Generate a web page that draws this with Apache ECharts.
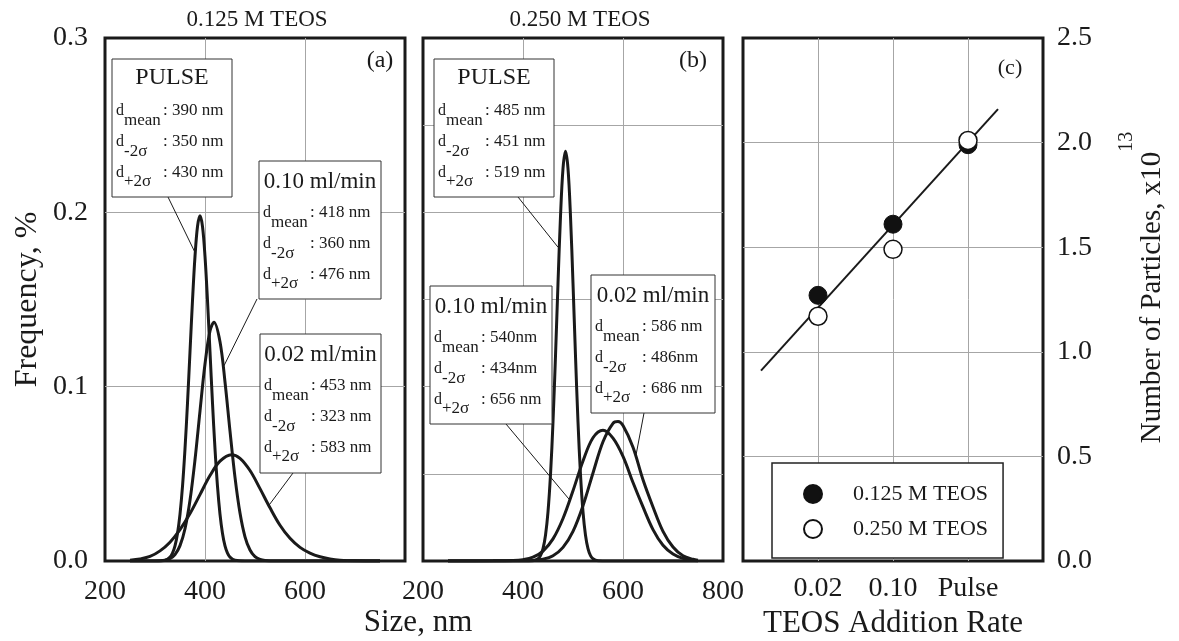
<!DOCTYPE html>
<html><head><meta charset="utf-8">
<script src="https://cdn.jsdelivr.net/npm/echarts@6/dist/echarts.min.js"></script>
<style>html,body{margin:0;padding:0;background:#fff}#c{width:1179px;height:641px}</style>
</head><body><div id="c"></div>
<script>
// ---------------- DATA ----------------
const sizeTickLabelsA = ['200', '400', '600'];
const sizeTickLabelsB = ['200', '400', '600', '800'];
const freqTickLabels = ['0.0', '0.1', '0.2', '0.3'];
const countTickLabels = ['0.0', '0.5', '1.0', '1.5', '2.0', '2.5'];
const rates = ['0.02', '0.10', 'Pulse'];

// panel (a) 0.125 M TEOS : [size nm, frequency %]
const pulseA = [[250,0],[300,0],[320,0.0004],[330,0.0022],[335,0.0045],[340,0.0087],[345,0.0158],[350,0.0268],[355,0.0428],[360,0.0643],[365,0.0906],[370,0.120],[375,0.1494],[380,0.1747],[385,0.1919],[390,0.198],[395,0.1919],[400,0.1747],[405,0.1494],[410,0.120],[415,0.0906],[420,0.0643],[425,0.0428],[430,0.0268],[435,0.0158],[440,0.0087],[445,0.0045],[450,0.0022],[460,0.0004],[480,0],[750,0]];
const rate010A = [[250,0],[310,0],[330,0.0014],[340,0.0037],[350,0.0088],[360,0.0185],[370,0.0348],[380,0.0581],[390,0.086],[400,0.113],[410,0.132],[418,0.137],[430,0.1258],[440,0.1027],[450,0.0745],[460,0.048],[470,0.0275],[480,0.0139],[490,0.0063],[500,0.0025],[510,0.0009],[520,0.0003],[540,0],[750,0]];
const rate002A = [[250,0.0005],[270,0.0012],[290,0.0026],[310,0.0058],[330,0.0108],[350,0.018],[370,0.0272],[390,0.0381],[410,0.049],[430,0.0573],[453,0.061],[470,0.0589],[490,0.0519],[510,0.0415],[530,0.0305],[550,0.0205],[570,0.013],[590,0.0078],[610,0.0045],[630,0.0024],[650,0.0012],[670,0.0005],[700,0.0001],[750,0]];

// panel (b) 0.250 M TEOS
const pulseB = [[250,0],[400,0],[420,0.0002],[430,0.0013],[435,0.0031],[440,0.0071],[445,0.0148],[450,0.0282],[455,0.0495],[460,0.0797],[465,0.1176],[470,0.1593],[475,0.1977],[480,0.2251],[485,0.235],[490,0.2251],[495,0.1977],[500,0.1593],[505,0.1176],[510,0.0797],[515,0.0495],[520,0.0282],[525,0.0148],[530,0.0071],[535,0.0031],[540,0.0013],[550,0.0002],[570,0],[750,0]];
const rate010B = [[250,0],[340,0.0001],[380,0.0003],[400,0.0008],[420,0.0022],[440,0.0057],[460,0.0127],[480,0.0244],[500,0.0403],[520,0.0574],[540,0.0707],[560,0.075],[580,0.0705],[600,0.060],[620,0.045],[640,0.031],[660,0.018],[680,0.009],[700,0.004],[720,0.0015],[740,0.0004],[750,0.0002]];
const rate002B = [[250,0],[400,0.0001],[420,0.0003],[440,0.001],[460,0.003],[480,0.0078],[500,0.017],[520,0.0317],[540,0.0505],[560,0.0684],[580,0.079],[590,0.080],[600,0.0777],[620,0.0652],[640,0.0466],[660,0.031],[680,0.017],[700,0.008],[720,0.003],[740,0.001],[750,0.0005]];

// panel (c) number of particles (x10^13) at rates[0..2]
const particles125 = [1.27, 1.61, 1.99];
const particles250 = [1.17, 1.49, 2.01];
const fitLine = [[0.24, 0.91], [3.40, 2.16]];

// annotation texts
const boxTitles = ['PULSE', '0.10 ml/min', '0.02 ml/min'];
const dMeanA = ['390 nm', '418 nm', '453 nm'];
const dMinusA = ['350 nm', '360 nm', '323 nm'];
const dPlusA = ['430 nm', '476 nm', '583 nm'];
const dMeanB = ['485 nm', '540nm', '586 nm'];
const dMinusB = ['451 nm', '434nm', '486nm'];
const dPlusB = ['519 nm', '656 nm', '686 nm'];
// leader tips in data coordinates [size, freq]
const leaderTipsA = [[380, 0.177], [438, 0.112], [528, 0.032]];
const leaderTipsB = [[470, 0.18], [492, 0.0355], [626, 0.0607]];

// ---------------- LAYOUT ----------------
const FONT = '"Liberation Serif", "Times New Roman", serif';
const INK = '#1a1a1a';
const GRIDC = '#a6a6a6';
const gridRects = [
  {left: 105, top: 38, width: 300, height: 523},
  {left: 423, top: 38, width: 300, height: 523},
  {left: 743, top: 38, width: 300, height: 523}
];
const boxRectsA = [[112, 59, 120, 138], [259, 161, 122, 138], [260, 334, 121, 139]];
const boxRectsB = [[434, 59, 120, 138], [430, 286, 122, 138], [591, 275, 124, 138]];
const leaderStartsA = [[168, 197], [257, 299], [293, 473]];
const leaderStartsB = [[518, 197], [506, 424], [644, 413]];

const chart = echarts.init(document.getElementById('c'), null, {renderer: 'canvas'});

const splitLineStyle = {show: true, showMinLine: false, showMaxLine: false, lineStyle: {color: GRIDC, width: 1}};
const lbl = (extra) => Object.assign({fontFamily: FONT, fontSize: 28, color: INK}, extra);

function curve(name, data, gi) {
  return {
    name: name, type: 'line', xAxisIndex: gi, yAxisIndex: gi, data: data,
    smooth: 0.35, symbol: 'none', showSymbol: false, clip: true,
    lineStyle: {color: INK, width: 3}, z: 5, silent: true
  };
}

const option = {
  animation: false,
  backgroundColor: '#fff',
  textStyle: {fontFamily: FONT},
  grid: gridRects.map(g => Object.assign({}, g, {show: true, borderColor: INK, borderWidth: 3,
    backgroundColor: 'rgba(0,0,0,0)', containLabel: false, outerBoundsMode: 'none'})),
  xAxis: [
    {gridIndex: 0, type: 'value', min: 200, max: 800, interval: 200,
     axisLine: {show: false}, axisTick: {show: false}, splitLine: splitLineStyle,
     axisLabel: lbl({margin: 17, formatter: v => sizeTickLabelsA[(v - 200) / 200] || ''})},
    {gridIndex: 1, type: 'value', min: 200, max: 800, interval: 200,
     axisLine: {show: false}, axisTick: {show: false}, splitLine: splitLineStyle,
     axisLabel: lbl({margin: 17, formatter: v => sizeTickLabelsB[(v - 200) / 200] || ''})},
    {gridIndex: 2, type: 'value', min: 0, max: 4, interval: 1,
     axisLine: {show: false}, axisTick: {show: false}, splitLine: splitLineStyle,
     axisLabel: lbl({margin: 14, formatter: v => rates[v - 1] || ''}),
     name: 'TEOS Addition Rate', nameLocation: 'middle', nameGap: 47,
     nameTextStyle: {fontFamily: FONT, fontSize: 31, color: INK}}
  ],
  yAxis: [
    {gridIndex: 0, type: 'value', min: 0, max: 0.3, interval: 0.1,
     axisLine: {show: false}, axisTick: {show: false}, splitLine: splitLineStyle,
     axisLabel: lbl({margin: 17, formatter: v => freqTickLabels[Math.round(v / 0.1)]}),
     name: 'Frequency, %', nameLocation: 'middle', nameGap: 61,
     nameTextStyle: {fontFamily: FONT, fontSize: 32, color: INK}},
    {gridIndex: 1, type: 'value', min: 0, max: 0.3, interval: 0.05,
     axisLine: {show: false}, axisTick: {show: false}, splitLine: splitLineStyle,
     axisLabel: {show: false}},
    {gridIndex: 2, type: 'value', position: 'right', min: 0, max: 2.5, interval: 0.5,
     axisLine: {show: false}, axisTick: {show: false}, splitLine: splitLineStyle,
     axisLabel: lbl({margin: 14, formatter: v => countTickLabels[Math.round(v / 0.5)]}),
     name: '{m|Number of Particles, x10}{s|13}', nameLocation: 'middle', nameGap: 74,
     nameTextStyle: {rich: {
       m: {fontFamily: FONT, fontSize: 29, color: INK, padding: [21, 0, 0, 24], verticalAlign: 'bottom'},
       s: {fontFamily: FONT, fontSize: 20, color: INK, verticalAlign: 'top'}
     }}}
  ],
  legend: {
    data: ['0.125 M TEOS', '0.250 M TEOS'],
    orient: 'vertical', left: 772, top: 463,
    padding: [20, 15, 18, 31], itemGap: 13, itemWidth: 18, itemHeight: 18,
    backgroundColor: '#fff', borderColor: '#222', borderWidth: 1.5, borderRadius: 0,
    textStyle: {fontFamily: FONT, fontSize: 22, color: INK, lineHeight: 18, padding: [0, 0, 0, 26]},
    selectedMode: false
  },
  series: [
    curve('pulseA', pulseA, 0), curve('rate010A', rate010A, 0), curve('rate002A', rate002A, 0),
    curve('pulseB', pulseB, 1), curve('rate010B', rate010B, 1), curve('rate002B', rate002B, 1),
    {name: 'fit', type: 'line', xAxisIndex: 2, yAxisIndex: 2, data: fitLine, symbol: 'none',
     lineStyle: {color: INK, width: 2}, z: 4, silent: true},
    {name: '0.125 M TEOS', type: 'scatter', xAxisIndex: 2, yAxisIndex: 2, symbol: 'circle', symbolSize: 18,
     data: particles125.map((v, i) => [i + 1, v]),
     itemStyle: {color: '#111', borderColor: '#111', borderWidth: 1, opacity: 1}, z: 6},
    {name: '0.250 M TEOS', type: 'scatter', xAxisIndex: 2, yAxisIndex: 2, symbol: 'circle', symbolSize: 18,
     data: particles250.map((v, i) => [i + 1, v]),
     itemStyle: {color: '#fff', borderColor: '#111', borderWidth: 1.5, opacity: 1}, z: 7}
  ]
};
chart.setOption(option);

// ---------------- ANNOTATIONS ----------------
const els = [];
function txt(x, y, text, size, align, extra) {
  return Object.assign({type: 'text', x: x, y: y, z: 12,
    style: {text: text, fontFamily: FONT, fontSize: size, fill: INK, align: align || 'center', verticalAlign: 'middle'}}, extra || {});
}
function addBox(rect, title, mean, minus, plus, start, tip, gi) {
  const [L, T, W, H] = rect;
  const p = chart.convertToPixel({gridIndex: gi}, tip);
  els.push({type: 'line', z: 10, shape: {x1: start[0], y1: start[1], x2: p[0], y2: p[1]}, style: {stroke: INK, lineWidth: 1}});
  els.push({type: 'rect', z: 11, shape: {x: L, y: T, width: W, height: H}, style: {fill: '#fff', stroke: '#333', lineWidth: 1}});
  const isPulse = title === 'PULSE';
  els.push(txt(L + W / 2, T + (isPulse ? 19 : 21), title, isPulse ? 24 : 23, 'center'));
  const rows = [[52, 'mean', mean], [83, '-2σ', minus], [113.5, '+2σ', plus]];
  rows.forEach(r => {
    els.push(txt(L + 4, T + r[0], 'd', 16, 'left'));
    els.push(txt(L + 12, T + r[0] + 9.5, r[1], 17, 'left'));
    els.push(txt(L + 51, T + r[0], ': ' + r[2], 17, 'left'));
  });
}
for (let i = 0; i < 3; i++) {
  addBox(boxRectsA[i], boxTitles[i], dMeanA[i], dMinusA[i], dPlusA[i], leaderStartsA[i], leaderTipsA[i], 0);
  addBox(boxRectsB[i], boxTitles[i], dMeanB[i], dMinusB[i], dPlusB[i], leaderStartsB[i], leaderTipsB[i], 1);
}
els.push(txt(257, 20, '0.125 M TEOS', 23, 'center'));
els.push(txt(580, 20, '0.250 M TEOS', 23, 'center'));
els.push(txt(380, 61, '(a)', 24, 'center'));
els.push(txt(693, 61, '(b)', 24, 'center'));
els.push(txt(1010, 68, '(c)', 22, 'center'));
els.push(txt(418, 623, 'Size, nm', 31, 'center'));
chart.setOption({graphic: els});
</script>
</body></html>
